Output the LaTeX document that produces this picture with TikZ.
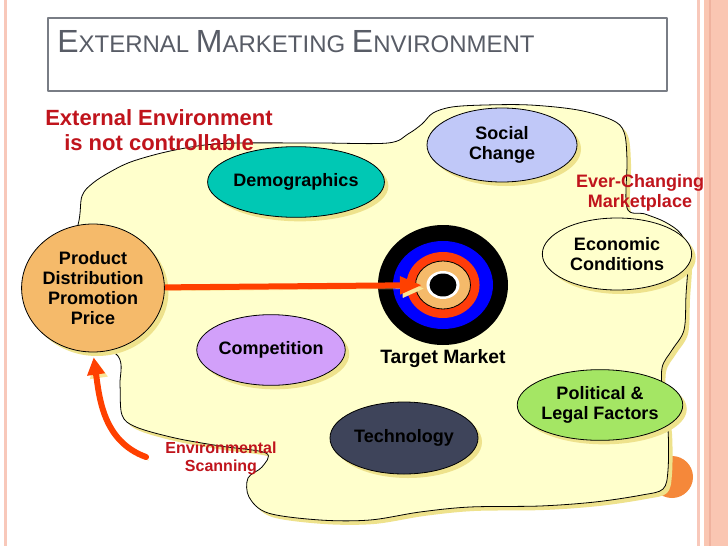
\documentclass[tikz,border=0pt]{standalone}
\usepackage{fontspec}
\setmainfont{Liberation Sans}
\usetikzlibrary{arrows.meta,shapes.geometric,shadows,positioning}

\definecolor{blobyellow}{RGB}{255,255,204}
\definecolor{shadowyellow}{RGB}{238,226,140}
\definecolor{arrowshadow}{RGB}{250,228,150}
\definecolor{scanred}{RGB}{255,64,0}
\definecolor{labelred}{RGB}{192,20,28}
\definecolor{titlegray}{RGB}{88,92,102}
\definecolor{prodtan}{RGB}{245,186,106}
\definecolor{demoteal}{RGB}{0,200,180}
\definecolor{socialblue}{RGB}{192,200,248}
\definecolor{complilac}{RGB}{210,160,250}
\definecolor{techslate}{RGB}{62,68,90}
\definecolor{polgreen}{RGB}{164,230,100}
\definecolor{ringblue}{RGB}{0,0,255}
\definecolor{ringred}{RGB}{255,60,10}
\definecolor{borderpink}{RGB}{248,200,186}
\definecolor{bordersalmon}{RGB}{250,198,178}
\definecolor{borderline}{RGB}{240,178,158}
\definecolor{dotorange}{RGB}{245,136,58}

\newcommand{\smcap}[2]{{\fontsize{24}{24}\selectfont #1}{\fontsize{18}{18}\selectfont #2}}

\begin{document}
\begin{tikzpicture}[x=0.75pt,y=-0.75pt,line join=round,
    env node/.style={ellipse,draw=black,line width=0.6pt,inner sep=0pt,
      minimum width=111pt,minimum height=53pt,align=center,
      font=\fontsize{13.5}{15}\selectfont\bfseries,
      drop shadow={shadow xshift=3pt,shadow yshift=-3pt,fill=shadowyellow,opacity=1}},
    red label/.style={text=labelred,align=center,inner sep=0pt},
    red arrow/.style={draw=scanred,line width=4.5pt,
      preaction={draw=arrowshadow,transform canvas={shift={(2pt,-2.5pt)}}}},
    ring/.style={line width=0.6pt}]

  % page and slide border
  \useasboundingbox (0,0) rectangle (728,546);
  \fill[white] (0,0) rectangle (728,546);
  \fill[borderpink] (4,0) rectangle (7,546);
  \fill[borderpink] (697,0) rectangle (700,546);
  \fill[bordersalmon] (704,0) rectangle (728,546);
  \draw[borderline,line width=0.8pt] (710,0) -- (710,546);

  % title
  \node[draw=titlegray!80,line width=0.8pt,minimum width=464.25pt,
    minimum height=54.75pt,inner sep=0pt] (titlebox) at (357.5,54.5) {};
  \node[anchor=base west,inner sep=0pt,text=titlegray,
    font=\fontsize{18}{18}\selectfont] (title) at (57,52)
    {\smcap{E}{XTERNAL} \smcap{M}{ARKETING} \smcap{E}{NVIRONMENT}};

  \fill[dotorange] (672,477) circle (15.75pt);

  % the environment
  \path[fill=blobyellow,draw=black,line width=0.6pt,
    drop shadow={shadow xshift=3pt,shadow yshift=-3pt,fill=shadowyellow,opacity=1}]
    plot[smooth cycle,tension=0.55] coordinates {
      (78,225) (82,196) (93,183) (110,172) (128,163) (150,156) (175,150)
      (205,145) (240,143) (320,143) (388,143) (408,134) (422,124) (433,113)
      (452,107) (485,105) (530,105) (578,110) (612,120) (624,132) (627,160)
      (627,208) (645,214) (665,222) (681,234) (688,255) (686,295) (684,330)
      (672,350) (662,368) (663,400) (668,430) (668,470) (663,489) (642,495)
      (595,502) (540,506) (470,507) (420,512) (370,520) (320,520) (268,513)
      (249,497) (248,478) (262,467) (266,453) (220,446) (175,438) (136,427)
      (122,415) (120,385) (118,356) (80,330) (60,280)};

  \node[env node,fill=demoteal] (demo) at (296,182) {Demographics};
  \node[env node,fill=socialblue,minimum width=112.5pt,minimum height=55.5pt]
    (social) at (502,145) {Social\\Change};
  \node[env node,fill=blobyellow,minimum width=112pt,minimum height=54pt]
    (econ) at (617,254) {Economic\\Conditions};
  \node[env node,fill=complilac] (comp) at (271,350) {Competition};
  \node[env node,fill=techslate,minimum height=54pt] (tech) at (404,438) {Technology};
  \node[env node,fill=polgreen,minimum width=112pt] (polit) at (600,405)
    {Political \&\\Legal Factors};
  \node[env node,fill=prodtan,minimum width=103pt,minimum height=96pt]
    (prod) at (93,288) {Product\\Distribution\\Promotion\\Price};

  % target market
  \node[ellipse,fill=black,minimum width=97.5pt,minimum height=90pt,inner sep=0pt]
    (target) at (443,285) {};
  \fill[ringblue] (target.center) ellipse (37.5pt and 33pt);
  \fill[ringred] (target.center) ellipse (27.4pt and 24.75pt);
  \draw[ring,fill=prodtan] (target.center) ellipse (20.6pt and 18pt);
  \fill[white] (target.center) ellipse (12.4pt and 10.5pt);
  \fill[black] (target.center) ellipse (10.1pt and 8.6pt);
  \node[below=3pt of target,inner sep=0pt,font=\fontsize{14.5}{16}\selectfont\bfseries]
    (tmlabel) {Target Market};

  % arrows
  \draw[red arrow,-{Triangle[length=16.5pt,width=12.5pt]},shorten >=15.75pt]
    (prod) -- (target.center);
  \coordinate (scanstart) at (146,457);
  \draw[red arrow,line cap=round,-{Triangle[length=13pt,width=12.75pt]},shorten >=3.75pt]
    (scanstart) to[out=160,in=-82] (prod.south);

  % labels
  \node[red label,font=\fontsize{16.5}{18.75}\selectfont\bfseries] (notctrl)
    at (159,130) {External Environment\\is not controllable};
  \node[red label,font=\fontsize{13.5}{15}\selectfont\bfseries] (everchg)
    at (640,193) {Ever-Changing\\Marketplace};
  \node[red label,font=\fontsize{12}{13.5}\selectfont\bfseries] (scanlbl)
    at (221,458) {Environmental\\Scanning};
\end{tikzpicture}
\end{document}
